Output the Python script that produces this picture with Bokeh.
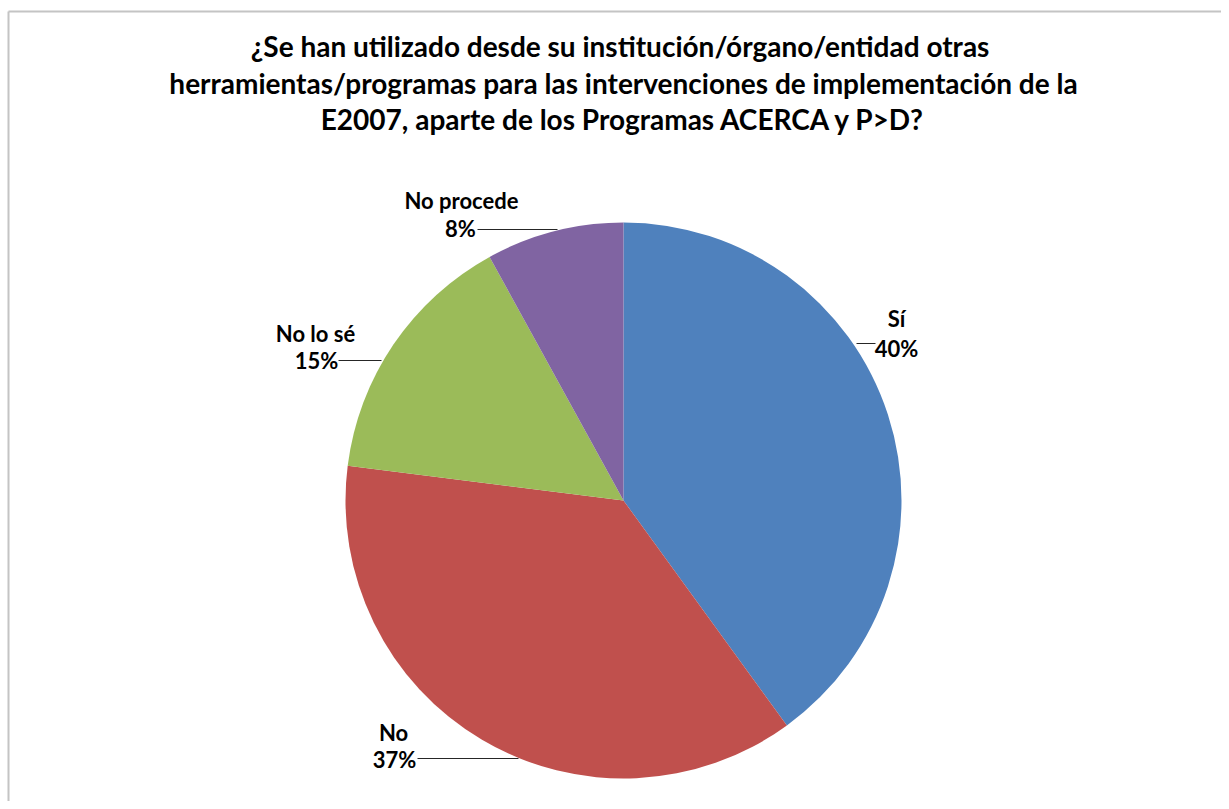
import numpy as np
from bokeh.plotting import figure
from bokeh.models import ColumnDataSource, Range1d
from bokeh.core.properties import value
from bokeh.embed import file_html
from bokeh.resources import INLINE

# ---- data ----
categories = ["Sí", "No", "No lo sé", "No procede"]
percentages = [40, 37, 15, 8]
colors = ["#4F81BD", "#C0504D", "#9BBB59", "#8064A2"]
title_lines = [
    "¿Se han utilizado  desde su institución/órgano/entidad otras",
    "herramientas/programas para las intervenciones de implementación de la",
    "E2007, aparte de los Programas ACERCA y P>D?",
]

# ---- layout (figure pixel space, y up) ----
W, H = 1221, 801
CX, CY, R = 615, 309, 278
FONT = value("Lato")

p = figure(width=W, height=H, output_backend="svg", toolbar_location=None,
           x_range=Range1d(-8, W - 8), y_range=Range1d(8, H + 8),
           x_axis_type=None, y_axis_type=None, min_border=0)
p.grid.visible = False
p.outline_line_color = None
p.background_fill_color = "white"
p.border_fill_color = "white"

# chart border (top and left visible in the reference)
p.segment(x0=[0, 0], y0=[798, 0], x1=[W, 0], y1=[798, 798], line_color="#C4C4C4", line_width=2)

vals = np.array(percentages, dtype=float)
frac = vals / vals.sum()
cum = np.concatenate([[0], np.cumsum(frac)])
start = np.pi / 2 - 2 * np.pi * cum[:-1]
end = np.pi / 2 - 2 * np.pi * cum[1:]
src = ColumnDataSource(dict(start=start, end=end, color=colors))
p.wedge(x=CX, y=CY, radius=R, start_angle="start", end_angle="end", direction="clock",
        fill_color="color", line_color=None, source=src)

# data labels (positions from the reference's best-fit placement)
name_xy = [(888, 491), (385, 77), (307, 476), (453, 609)]
pct_xy = [(888, 461), (386, 50), (308, 449), (452, 581)]
leaders = [((848, 466), (867, 466)), ((409, 51), (510, 51)),
           ((330, 449), (373, 449)), ((469, 580), (549, 580))]

lsrc = ColumnDataSource(dict(
    x=[a[0] for a in name_xy], y=[a[1] for a in name_xy], t=categories))
psrc = ColumnDataSource(dict(
    x=[a[0] for a in pct_xy], y=[a[1] for a in pct_xy], t=[f"{v}%" for v in percentages]))
p.segment(x0=[l[0][0] for l in leaders], y0=[l[0][1] for l in leaders],
          x1=[l[1][0] for l in leaders], y1=[l[1][1] for l in leaders],
          line_color="#262626", line_width=1)
for s in (lsrc, psrc):
    p.text(x="x", y="y", text="t", source=s, text_font=FONT, text_font_style="bold",
           text_font_size="22px", text_color="black", text_align="center",
           text_baseline="middle")

tsrc = ColumnDataSource(dict(x=[615, 615, 615], y=[764, 727, 691], t=title_lines))
p.text(x="x", y="y", text="t", source=tsrc, text_font=FONT, text_font_style="bold",
       text_font_size="28px", text_color="black", text_align="center", text_baseline="middle")

open("out.html", "w").write(file_html(p, INLINE))
